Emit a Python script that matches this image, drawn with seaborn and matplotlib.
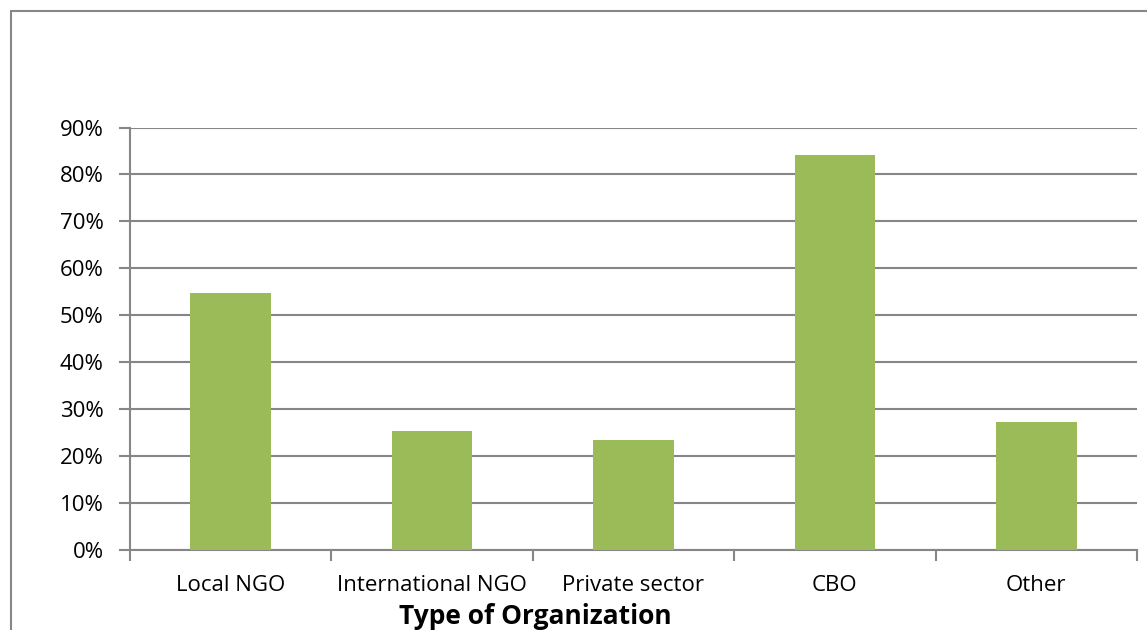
import matplotlib
matplotlib.use("Agg")
import matplotlib.pyplot as plt
import matplotlib.patches as mpatches
from matplotlib.ticker import PercentFormatter, FixedLocator
import seaborn as sns
import pandas as pd

categories = ["Local NGO", "International NGO", "Private sector", "CBO", "Other"]
shares = [0.547, 0.254, 0.234, 0.842, 0.273]
y_ticks = [0.0, 0.1, 0.2, 0.3, 0.4, 0.5, 0.6, 0.7, 0.8, 0.9]
x_title = "Type of Organization"

sns.set_theme(style="white")
plt.rcParams["font.family"] = ["Open Sans", "DejaVu Sans"]

W, H = 1147, 630
fig = plt.figure(figsize=(W / 100, H / 100), dpi=100)
fig.patch.set_facecolor("white")

# chart frame, running off the right and bottom edges
frame = mpatches.Rectangle((11 / W, -0.05), 1.2, 1 - 11 / H + 0.05,
                           transform=fig.transFigure, fill=False,
                           edgecolor="#878787", linewidth=1.5, zorder=0)
fig.patches.append(frame)

ax = fig.add_axes([130 / W, 1 - 550 / H, (1137 - 130) / W, (550 - 127.5) / H])

df = pd.DataFrame({"org": categories, "share": shares})
sns.barplot(data=df, x="org", y="share", color="#9BBB59", saturation=1,
            width=0.4, linewidth=0, ax=ax, zorder=3)

grid_c = "#868686"
ax.set_ylim(0, 0.9)
ax.set_xlim(-0.5, len(categories) - 0.5)
ax.yaxis.set_major_locator(FixedLocator(y_ticks))
ax.yaxis.set_major_formatter(PercentFormatter(1.0, decimals=0))
ax.yaxis.grid(True, color=grid_c, linewidth=1.5, zorder=1)
ax.set_axisbelow(True)

for side in ("top", "right"):
    ax.spines[side].set_visible(False)
for side in ("left", "bottom"):
    ax.spines[side].set_color(grid_c)
    ax.spines[side].set_linewidth(1.5)

ax.tick_params(axis="y", which="major", length=8, width=1.5, color=grid_c,
               direction="out", labelsize=16, labelcolor="black", pad=11, left=True)
# category boundary ticks below the baseline
ax.set_xticks([i - 0.5 for i in range(len(categories) + 1)], minor=True)
ax.tick_params(axis="x", which="minor", length=8, width=1.5, color=grid_c,
               direction="out", bottom=True)
ax.tick_params(axis="x", which="major", length=0, labelsize=16,
               labelcolor="black", pad=18)

ax.set_ylabel("")
ax.set_xlabel("")
fig.text(535 / W, 1 - 616 / H, x_title, ha="center", va="center",
         fontsize=19, fontweight="bold", color="black")

fig.savefig("out.png", dpi=100, facecolor="white")
